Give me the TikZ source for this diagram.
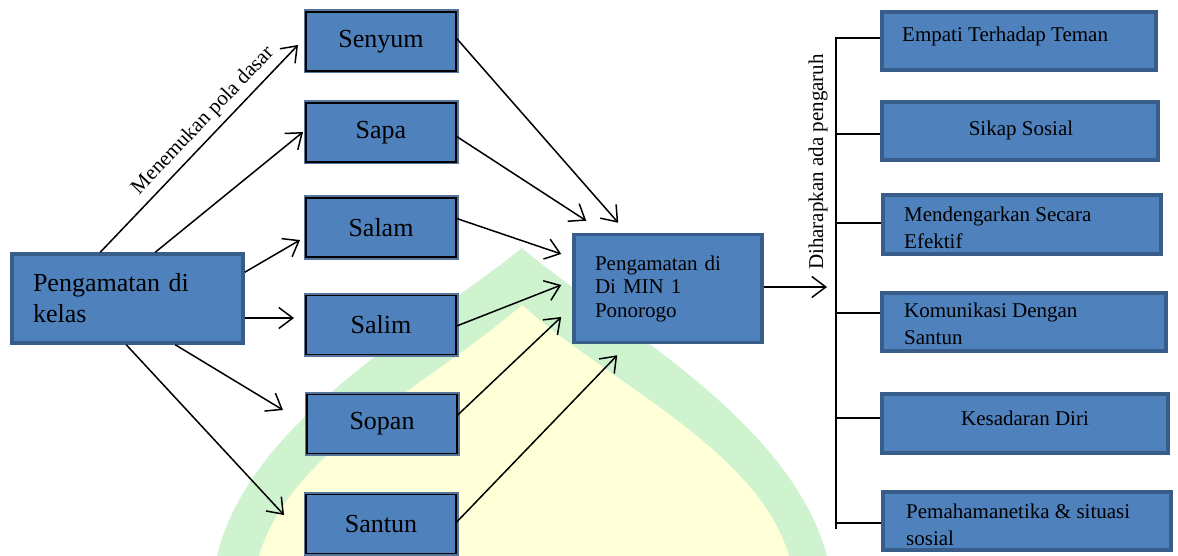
\documentclass[tikz,border=0pt]{standalone}
\usepackage{fontspec}
\setmainfont{Liberation Serif}
\usetikzlibrary{arrows.meta,calc}
\definecolor{boxfill}{HTML}{4F81BD}
\definecolor{boxedge}{HTML}{385D8A}
\definecolor{wmgreen}{HTML}{CFF2CF}
\definecolor{wmyellow}{HTML}{FFFFD8}
\begin{document}
\begin{tikzpicture}[x=1pt,y=-1pt,
  bigbox/.style={draw=boxedge, line width=3.5pt, fill=boxfill, align=left, inner sep=0pt},
  midbox/.style={fill=boxfill, draw=black, line width=1.4pt,
     preaction={draw=boxedge!85, line width=5pt},
     minimum width=150pt, minimum height=59pt, inner sep=0pt,
     font=\fontsize{26}{31}\selectfont},
  rbox/.style={draw=boxedge, line width=4pt, fill=boxfill, inner sep=0pt},
  rtext/.style={inner sep=0pt, align=left, font=\fontsize{21}{27.5}\selectfont},
  conn/.style={line width=1.5pt, black},
  arr/.style={conn, -{Straight Barb[length=14pt,width=21pt]}}]
\useasboundingbox (0,0) rectangle (1178,556);
% watermark
\fill[wmgreen] (217,556) .. controls (250,420) and (420,330) .. (522,248)
   .. controls (620,330) and (790,420) .. (827,556) -- cycle;
\fill[wmyellow] (259,556) .. controls (290,450) and (430,385) .. (522,305)
   .. controls (612,385) and (758,450) .. (789,556) -- cycle;

% left box
\node[bigbox, minimum width=231pt, minimum height=89pt, text width=189pt,
      font=\fontsize{26}{31}\selectfont] (L) at (127.5,298.5) {Pengamatan di\\kelas};

% middle boxes
\node[midbox] (Senyum) at (381,41.5) {Senyum};
\node[midbox] (Sapa) at (381,132.5) {Sapa};
\node[midbox] (Salam) at (381,227.5) {Salam};
\node[midbox] (Salim) at (381,325) {Salim};
\node[midbox] (Sopan) at (382,424) {Sopan};
\node[midbox] (Santun) at (381,524) {Santun};

% center box
\node[bigbox, minimum width=188pt, minimum height=108pt, text width=146pt,
      font=\fontsize{21}{23.5}\selectfont] (C) at (668,288.5) {Pengamatan di\\Di MIN 1\\Ponorogo};

% right boxes
\node[rbox, minimum width=274pt, minimum height=58pt] (R1) at (1019,41) {};
\node[rbox, minimum width=276pt, minimum height=58pt] (R2) at (1020,131) {};
\node[rbox, minimum width=278pt, minimum height=59pt] (R3) at (1022,224.5) {};
\node[rbox, minimum width=284pt, minimum height=58pt] (R4) at (1024,322) {};
\node[rbox, minimum width=286pt, minimum height=59pt] (R5) at (1025,423.5) {};
\node[rbox, minimum width=288pt, minimum height=58pt] (R6) at (1027,521) {};

\node[rtext, anchor=west] (T1) at (902,36) {Empati Terhadap Teman};
\node[rtext] (T2) at (1021,130) {Sikap Sosial};
\node[rtext, anchor=west] (T3) at (904,228) {Mendengarkan Secara\\Efektif};
\node[rtext, anchor=west] (T4) at (904,324) {Komunikasi Dengan\\Santun};
\node[rtext] (T5) at (1025,418) {Kesadaran Diri};
\node[rtext, anchor=west] (T6) at (906,525) {Pemahamanetika \& situasi\\sosial};

% arrows from left box
\coordinate (e1) at (298,45);
\coordinate (e2) at (303,132);
\coordinate (e3) at (300,240);
\coordinate (e4) at (294,318);
\coordinate (e5) at (283,410);
\coordinate (e6) at (284,515);
\draw[arr] ($(L.north west)+(90,0)$) -- node[pos=0.58, sloped, above=5pt, inner sep=1pt,
   font=\fontsize{21}{21}\selectfont] (lab) {Menemukan pola dasar} (e1);
\draw[arr] ($(L.north west)+(145,0)$) -- (e2);
\draw[arr] ($(L.north east)+(0,20)$) -- (e3);
\draw[arr] ($(L.east)+(0,19.5)$) -- (e4);
\draw[arr] ($(L.south west)+(165,0)$) -- (e5);
\draw[arr] ($(L.south west)+(116,0)$) -- (e6);

% arrows to center box
\draw[arr] ($(Senyum.east)+(0,-3)$) -- ($(C.north west)+(46,-10)$);
\draw[arr] ($(Sapa.east)+(0,4)$) -- ($(C.north west)+(14,-12)$);
\draw[arr] ($(Salam.east)+(0,-9)$) -- ($(C.west)+(-11,-34.5)$);
\draw[arr] ($(Salim.east)+(0,1)$) -- ($(C.west)+(-11,-3.5)$);
\draw[arr] ($(Sopan.east)+(0,-9)$) -- ($(C.west)+(-11,28.5)$);
\draw[arr] ($(Santun.east)+(0,-2)$) -- ($(C.south west)+(45,11)$);

% center to bracket
\coordinate (A) at (827,287);
\draw[arr] ($(C.east)+(0,-1.5)$) -- (A);
\node[rotate=90, inner sep=0pt, font=\fontsize{21}{21}\selectfont] (D) at (818,162) {Diharapkan ada pengaruh};

% bracket
\coordinate (V) at (836,38);
\coordinate (Vb) at (836,529);
\path ($(R1.west)+(0,-3)$) coordinate (t1);
\path ($(R2.west)+(0,3)$) coordinate (t2);
\path ($(R3.west)+(0,-1.5)$) coordinate (t3);
\path ($(R4.west)+(0,-9)$) coordinate (t4);
\path ($(R5.west)+(0,-5.5)$) coordinate (t5);
\path ($(R6.west)+(0,2)$) coordinate (t6);
\draw[conn] (t1) -- (t1 -| V) -- (Vb);
\draw[conn] (t2) -- (t2 -| V);
\draw[conn] (t3) -- (t3 -| V);
\draw[conn] (t4) -- (t4 -| V);
\draw[conn] (t5) -- (t5 -| V);
\draw[conn] (t6) -- (t6 -| V);
\end{tikzpicture}
\end{document}
